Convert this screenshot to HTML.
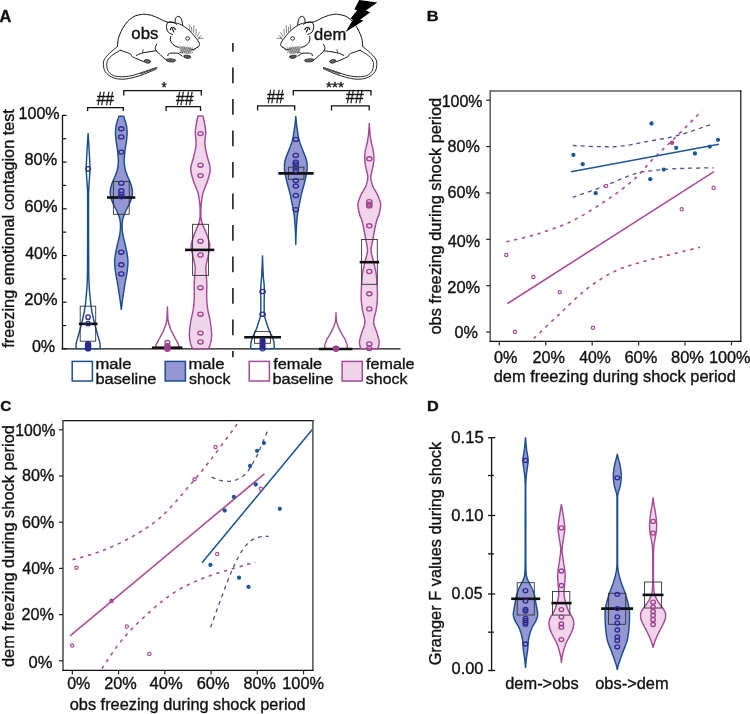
<!DOCTYPE html>
<html><head><meta charset="utf-8"><style>
html,body{margin:0;padding:0;background:#fff;}
svg{display:block;will-change:transform;}
</style></head><body>
<svg width="750" height="714" viewBox="0 0 750 714">
<rect width="750" height="714" fill="#fff"/>
<text x="-0.42" y="21.60" font-size="15.8" font-family="Liberation Sans, sans-serif" font-weight="bold" fill="#111" stroke="#111" stroke-width="0.35" textLength="11.86" lengthAdjust="spacingAndGlyphs">A</text>
<line x1="62.5" y1="115.0" x2="62.5" y2="349.2" stroke="#111" stroke-width="1.3" />
<line x1="61.6" y1="348.9" x2="400.5" y2="348.9" stroke="#111" stroke-width="1.4" />
<line x1="62.5" y1="348.9" x2="66.6" y2="348.9" stroke="#111" stroke-width="1.2" />
<line x1="62.5" y1="302.2" x2="66.6" y2="302.2" stroke="#111" stroke-width="1.2" />
<line x1="62.5" y1="255.49999999999997" x2="66.6" y2="255.49999999999997" stroke="#111" stroke-width="1.2" />
<line x1="62.5" y1="208.79999999999998" x2="66.6" y2="208.79999999999998" stroke="#111" stroke-width="1.2" />
<line x1="62.5" y1="162.09999999999997" x2="66.6" y2="162.09999999999997" stroke="#111" stroke-width="1.2" />
<line x1="62.5" y1="115.39999999999998" x2="66.6" y2="115.39999999999998" stroke="#111" stroke-width="1.2" />
<line x1="62.5" y1="325.54999999999995" x2="66.2" y2="325.54999999999995" stroke="#111" stroke-width="1.2" />
<line x1="62.5" y1="278.84999999999997" x2="66.2" y2="278.84999999999997" stroke="#111" stroke-width="1.2" />
<line x1="62.5" y1="232.14999999999998" x2="66.2" y2="232.14999999999998" stroke="#111" stroke-width="1.2" />
<line x1="62.5" y1="185.45" x2="66.2" y2="185.45" stroke="#111" stroke-width="1.2" />
<line x1="62.5" y1="138.74999999999997" x2="66.2" y2="138.74999999999997" stroke="#111" stroke-width="1.2" />
<text x="18.55" y="118.60" font-size="16" font-family="Liberation Sans, sans-serif" fill="#111" stroke="#111" stroke-width="0.35" textLength="41.03" lengthAdjust="spacingAndGlyphs">100%</text>
<text x="24.54" y="165.20" font-size="16" font-family="Liberation Sans, sans-serif" fill="#111" stroke="#111" stroke-width="0.35" textLength="32.60" lengthAdjust="spacingAndGlyphs">80%</text>
<text x="24.22" y="211.60" font-size="16" font-family="Liberation Sans, sans-serif" fill="#111" stroke="#111" stroke-width="0.35" textLength="33.33" lengthAdjust="spacingAndGlyphs">60%</text>
<text x="25.25" y="259.40" font-size="16" font-family="Liberation Sans, sans-serif" fill="#111" stroke="#111" stroke-width="0.35" textLength="31.77" lengthAdjust="spacingAndGlyphs">40%</text>
<text x="24.22" y="305.40" font-size="16" font-family="Liberation Sans, sans-serif" fill="#111" stroke="#111" stroke-width="0.35" textLength="33.33" lengthAdjust="spacingAndGlyphs">20%</text>
<text x="31.90" y="352.00" font-size="16" font-family="Liberation Sans, sans-serif" fill="#111" stroke="#111" stroke-width="0.35" textLength="23.23" lengthAdjust="spacingAndGlyphs">0%</text>
<text x="13.60" y="347.65" font-size="16.3" font-family="Liberation Sans, sans-serif" fill="#111" stroke="#111" stroke-width="0.35" textLength="238.55" lengthAdjust="spacingAndGlyphs" transform="rotate(-90 13.60 347.65)">freezing emotional contagion test</text>
<g><path d="M117.40,46.60 C117.57,45.27 117.77,41.15 118.40,38.60 C119.03,36.05 120.08,33.63 121.20,31.30 C122.32,28.97 123.70,26.55 125.10,24.60 C126.50,22.65 127.92,21.05 129.60,19.60 C131.28,18.15 133.23,16.75 135.20,15.90 C137.17,15.05 139.77,14.77 141.40,14.50 C143.03,14.23 143.28,14.15 145.00,14.30 C146.72,14.45 149.37,14.72 151.70,15.40 C154.03,16.08 157.03,17.52 159.00,18.40 C160.97,19.28 162.10,20.07 163.50,20.70 C164.90,21.33 166.75,21.95 167.40,22.20" fill="none" stroke="#111" stroke-width="1.0" stroke-linecap="round" stroke-linejoin="round"/><path d="M167.40,22.20 C168.00,22.23 169.68,22.28 171.00,22.40 C172.32,22.52 173.85,22.63 175.30,22.90 C176.75,23.17 178.42,23.52 179.70,24.00 C180.98,24.48 181.45,24.78 183.00,25.80 C184.55,26.82 187.17,28.45 189.00,30.10 C190.83,31.75 192.50,33.92 194.00,35.70 C195.50,37.48 197.07,39.33 198.00,40.80 C198.93,42.27 199.50,43.53 199.60,44.50 C199.70,45.47 199.00,46.13 198.60,46.60 C198.20,47.07 197.43,47.18 197.20,47.30" fill="none" stroke="#111" stroke-width="0.95" stroke-linecap="round" stroke-linejoin="round"/><path d="M176.60,24.40 C176.18,24.10 175.20,23.02 174.10,22.60 C173.00,22.18 171.15,21.77 170.00,21.90 C168.85,22.03 167.78,22.45 167.20,23.40 C166.62,24.35 166.32,26.13 166.50,27.60 C166.68,29.07 167.28,31.05 168.30,32.20 C169.32,33.35 171.88,34.12 172.60,34.50" fill="none" stroke="#111" stroke-width="1.0" stroke-linecap="round" stroke-linejoin="round"/><path d="M170.40,29.80 C170.50,29.50 170.67,28.42 171.00,28.00 C171.33,27.58 171.87,27.32 172.40,27.30 C172.93,27.28 173.70,27.52 174.20,27.90 C174.70,28.28 175.20,29.32 175.40,29.60" fill="none" stroke="#111" stroke-width="1.15" stroke-linecap="round" stroke-linejoin="round"/><path d="M172.30,28.60 C172.55,29.17 173.55,31.43 173.80,32.00" fill="none" stroke="#111" stroke-width="1.1" stroke-linecap="round" stroke-linejoin="round"/><path d="M175.20,22.20 C175.25,21.58 175.10,19.47 175.50,18.50 C175.90,17.53 176.82,16.62 177.60,16.40 C178.38,16.18 179.48,16.50 180.20,17.20 C180.92,17.90 181.50,19.30 181.90,20.60 C182.30,21.90 182.48,24.27 182.60,25.00" fill="none" stroke="#111" stroke-width="1.0" stroke-linecap="round" stroke-linejoin="round"/><path d="M170.80,36.40 C170.72,37.00 169.95,38.67 170.30,40.00 C170.65,41.33 171.73,43.23 172.90,44.40 C174.07,45.57 175.83,46.52 177.30,47.00 C178.77,47.48 180.97,47.25 181.70,47.30" fill="none" stroke="#111" stroke-width="1.0" stroke-linecap="round" stroke-linejoin="round"/><path d="M181.70,47.60 C182.45,47.67 184.80,47.77 186.20,48.00 C187.60,48.23 188.88,48.77 190.10,49.00 C191.32,49.23 192.47,49.58 193.50,49.40 C194.53,49.22 195.62,48.27 196.30,47.90 C196.98,47.53 197.38,47.32 197.60,47.20" fill="none" stroke="#111" stroke-width="1.0" stroke-linecap="round" stroke-linejoin="round"/><ellipse cx="187.6" cy="38.5" rx="2.0" ry="1.7" fill="none" stroke="#111" stroke-width="0.85"/><line x1="189.9" y1="24.3" x2="189.7" y2="30.3" stroke="#222" stroke-width="0.55"/><line x1="191.5" y1="26.8" x2="191.8" y2="31.8" stroke="#222" stroke-width="0.55"/><line x1="194.0" y1="25.0" x2="193.6" y2="33.0" stroke="#222" stroke-width="0.55"/><line x1="196.3" y1="28.9" x2="195.8" y2="35.6" stroke="#222" stroke-width="0.55"/><line x1="199.8" y1="32.3" x2="196.8" y2="36.8" stroke="#222" stroke-width="0.55"/><line x1="203.6" y1="38.2" x2="198.5" y2="38.6" stroke="#222" stroke-width="0.55"/><line x1="199.8" y1="37.3" x2="198.0" y2="39.6" stroke="#222" stroke-width="0.55"/><line x1="201.5" y1="35.5" x2="197.6" y2="38.0" stroke="#222" stroke-width="0.55"/><path d="M179.0,47.2 C181,45.8 185,46.0 188.5,47.8 C190.5,49 191.8,51 191.0,53.2 C189,54.6 185,54.2 182.5,52.6 C180.5,51.2 178.6,49.2 179.0,47.2 Z" fill="#c4c4c4" stroke="none"/><line x1="179.8" y1="46.6" x2="183.0" y2="53.6" stroke="#444" stroke-width="0.5"/><line x1="183.0" y1="46.8" x2="179.8" y2="53.4" stroke="#555" stroke-width="0.4"/><line x1="181.8" y1="46.6" x2="185.0" y2="53.6" stroke="#444" stroke-width="0.5"/><line x1="185.0" y1="46.8" x2="181.8" y2="53.4" stroke="#555" stroke-width="0.4"/><line x1="183.8" y1="46.6" x2="187.0" y2="53.6" stroke="#444" stroke-width="0.5"/><line x1="187.0" y1="46.8" x2="183.8" y2="53.4" stroke="#555" stroke-width="0.4"/><line x1="185.8" y1="46.6" x2="189.0" y2="53.6" stroke="#444" stroke-width="0.5"/><line x1="189.0" y1="46.8" x2="185.8" y2="53.4" stroke="#555" stroke-width="0.4"/><line x1="187.8" y1="46.6" x2="191.0" y2="53.6" stroke="#444" stroke-width="0.5"/><line x1="191.0" y1="46.8" x2="187.8" y2="53.4" stroke="#555" stroke-width="0.4"/><line x1="189.8" y1="46.6" x2="193.0" y2="53.6" stroke="#444" stroke-width="0.5"/><line x1="193.0" y1="46.8" x2="189.8" y2="53.4" stroke="#555" stroke-width="0.4"/><line x1="193.5" y1="49.5" x2="193.0" y2="51.2" stroke="#111" stroke-width="0.6"/><line x1="195.2" y1="48.8" x2="194.8" y2="50.4" stroke="#111" stroke-width="0.6"/><path d="M156.70,44.20 C156.47,44.72 155.38,46.20 155.30,47.30 C155.22,48.40 155.35,49.57 156.20,50.80 C157.05,52.03 159.08,53.45 160.40,54.70 C161.72,55.95 162.95,57.37 164.10,58.30 C165.25,59.23 166.77,59.97 167.30,60.30" fill="none" stroke="#111" stroke-width="1.0" stroke-linecap="round" stroke-linejoin="round"/><path d="M136.40,55.40 C137.33,55.02 139.73,53.73 142.00,53.10 C144.27,52.47 147.63,51.98 150.00,51.60 C152.37,51.22 155.17,50.93 156.20,50.80" fill="none" stroke="#111" stroke-width="1.0" stroke-linecap="round" stroke-linejoin="round"/><path d="M143.30,49.60 C143.18,50.07 142.72,51.93 142.60,52.40" fill="none" stroke="#111" stroke-width="0.7" stroke-linecap="round" stroke-linejoin="round"/><path d="M120.20,50.30 C121.17,50.62 124.23,51.53 126.00,52.20 C127.77,52.87 129.77,53.57 130.80,54.30 C131.83,55.03 131.17,55.85 132.20,56.60 C133.23,57.35 135.37,58.07 137.00,58.80 C138.63,59.53 140.67,60.50 142.00,61.00 C143.33,61.50 144.50,61.67 145.00,61.80" fill="none" stroke="#111" stroke-width="1.0" stroke-linecap="round" stroke-linejoin="round"/><path d="M167.90,55.60 C168.00,55.30 168.03,54.20 168.50,53.80 C168.97,53.40 169.23,53.30 170.70,53.20 C172.17,53.10 175.72,52.95 177.30,53.20 C178.88,53.45 179.42,54.23 180.20,54.70 C180.98,55.17 181.70,55.78 182.00,56.00" fill="none" stroke="#111" stroke-width="1.0" stroke-linecap="round" stroke-linejoin="round"/><path d="M178.60,53.40 C178.93,53.20 179.97,52.30 180.60,52.20 C181.23,52.10 182.10,52.70 182.40,52.80" fill="none" stroke="#111" stroke-width="0.7" stroke-linecap="round" stroke-linejoin="round"/><path d="M166.6,59.4 C168.5,58.4 172.5,58.6 175.4,59.8 C176.2,60.6 175.2,61.9 173.0,62.0 C170.5,62.2 167.8,61.6 166.6,60.8 Z" fill="#666" stroke="#111" stroke-width="0.7"/><path d="M183.8,55.6 C185.6,54.9 188.8,55.0 190.6,56.2 C191.2,57.2 190.0,58.4 187.8,58.4 C185.8,58.4 184.2,57.6 183.8,56.8 Z" fill="#555" stroke="#111" stroke-width="0.7"/><path d="M144.6,60.0 C146.2,59.2 149.0,59.6 150.6,61.0 C151.0,62.2 149.6,63.4 147.6,63.2 C146.0,63.0 144.6,62.2 144.4,61.2 Z" fill="#666" stroke="#111" stroke-width="0.7"/><path d="M117.40,46.60 C116.50,47.33 113.68,49.53 112.00,51.00 C110.32,52.47 108.63,53.90 107.30,55.40 C105.97,56.90 104.65,58.52 104.00,60.00 C103.35,61.48 103.37,62.72 103.40,64.30 C103.43,65.88 103.63,67.95 104.20,69.50 C104.77,71.05 105.58,72.35 106.80,73.60 C108.02,74.85 109.73,76.12 111.50,77.00 C113.27,77.88 115.15,78.55 117.40,78.90 C119.65,79.25 122.57,79.28 125.00,79.10 C127.43,78.92 129.50,78.38 132.00,77.80 C134.50,77.22 137.33,76.47 140.00,75.60 C142.67,74.73 145.67,73.53 148.00,72.60 C150.33,71.67 152.53,70.67 154.00,70.00 C155.47,69.33 156.33,68.83 156.80,68.60" fill="none" stroke="#111" stroke-width="0.9" stroke-linecap="round" stroke-linejoin="round"/><path d="M120.20,50.30 C119.17,50.92 115.77,52.78 114.00,54.00 C112.23,55.22 110.73,56.35 109.60,57.60 C108.47,58.85 107.67,60.20 107.20,61.50 C106.73,62.80 106.73,64.02 106.80,65.40 C106.87,66.78 107.10,68.50 107.60,69.80 C108.10,71.10 108.82,72.23 109.80,73.20 C110.78,74.17 112.05,75.03 113.50,75.60 C114.95,76.17 116.42,76.43 118.50,76.60 C120.58,76.77 123.38,76.87 126.00,76.60 C128.62,76.33 131.70,75.63 134.20,75.00 C136.70,74.37 138.70,73.57 141.00,72.80 C143.30,72.03 145.83,71.13 148.00,70.40 C150.17,69.67 152.53,68.87 154.00,68.40 C155.47,67.93 156.33,67.73 156.80,67.60" fill="none" stroke="#111" stroke-width="0.9" stroke-linecap="round" stroke-linejoin="round"/><path d="M140,73.8 L156.8,68.0" stroke="#555" stroke-width="1.6" fill="none"/></g>
<g transform="translate(480.2,0) scale(-1,1)"><path d="M117.40,46.60 C117.57,45.27 117.77,41.15 118.40,38.60 C119.03,36.05 120.08,33.63 121.20,31.30 C122.32,28.97 123.70,26.55 125.10,24.60 C126.50,22.65 127.92,21.05 129.60,19.60 C131.28,18.15 133.23,16.75 135.20,15.90 C137.17,15.05 139.77,14.77 141.40,14.50 C143.03,14.23 143.28,14.15 145.00,14.30 C146.72,14.45 149.37,14.72 151.70,15.40 C154.03,16.08 157.03,17.52 159.00,18.40 C160.97,19.28 162.10,20.07 163.50,20.70 C164.90,21.33 166.75,21.95 167.40,22.20" fill="none" stroke="#111" stroke-width="1.0" stroke-linecap="round" stroke-linejoin="round"/><path d="M167.40,22.20 C168.00,22.23 169.68,22.28 171.00,22.40 C172.32,22.52 173.85,22.63 175.30,22.90 C176.75,23.17 178.42,23.52 179.70,24.00 C180.98,24.48 181.45,24.78 183.00,25.80 C184.55,26.82 187.17,28.45 189.00,30.10 C190.83,31.75 192.50,33.92 194.00,35.70 C195.50,37.48 197.07,39.33 198.00,40.80 C198.93,42.27 199.50,43.53 199.60,44.50 C199.70,45.47 199.00,46.13 198.60,46.60 C198.20,47.07 197.43,47.18 197.20,47.30" fill="none" stroke="#111" stroke-width="0.95" stroke-linecap="round" stroke-linejoin="round"/><path d="M176.60,24.40 C176.18,24.10 175.20,23.02 174.10,22.60 C173.00,22.18 171.15,21.77 170.00,21.90 C168.85,22.03 167.78,22.45 167.20,23.40 C166.62,24.35 166.32,26.13 166.50,27.60 C166.68,29.07 167.28,31.05 168.30,32.20 C169.32,33.35 171.88,34.12 172.60,34.50" fill="none" stroke="#111" stroke-width="1.0" stroke-linecap="round" stroke-linejoin="round"/><path d="M170.40,29.80 C170.50,29.50 170.67,28.42 171.00,28.00 C171.33,27.58 171.87,27.32 172.40,27.30 C172.93,27.28 173.70,27.52 174.20,27.90 C174.70,28.28 175.20,29.32 175.40,29.60" fill="none" stroke="#111" stroke-width="1.15" stroke-linecap="round" stroke-linejoin="round"/><path d="M172.30,28.60 C172.55,29.17 173.55,31.43 173.80,32.00" fill="none" stroke="#111" stroke-width="1.1" stroke-linecap="round" stroke-linejoin="round"/><path d="M175.20,22.20 C175.25,21.58 175.10,19.47 175.50,18.50 C175.90,17.53 176.82,16.62 177.60,16.40 C178.38,16.18 179.48,16.50 180.20,17.20 C180.92,17.90 181.50,19.30 181.90,20.60 C182.30,21.90 182.48,24.27 182.60,25.00" fill="none" stroke="#111" stroke-width="1.0" stroke-linecap="round" stroke-linejoin="round"/><path d="M170.80,36.40 C170.72,37.00 169.95,38.67 170.30,40.00 C170.65,41.33 171.73,43.23 172.90,44.40 C174.07,45.57 175.83,46.52 177.30,47.00 C178.77,47.48 180.97,47.25 181.70,47.30" fill="none" stroke="#111" stroke-width="1.0" stroke-linecap="round" stroke-linejoin="round"/><path d="M181.70,47.60 C182.45,47.67 184.80,47.77 186.20,48.00 C187.60,48.23 188.88,48.77 190.10,49.00 C191.32,49.23 192.47,49.58 193.50,49.40 C194.53,49.22 195.62,48.27 196.30,47.90 C196.98,47.53 197.38,47.32 197.60,47.20" fill="none" stroke="#111" stroke-width="1.0" stroke-linecap="round" stroke-linejoin="round"/><ellipse cx="187.6" cy="38.5" rx="2.0" ry="1.7" fill="none" stroke="#111" stroke-width="0.85"/><line x1="189.9" y1="24.3" x2="189.7" y2="30.3" stroke="#222" stroke-width="0.55"/><line x1="191.5" y1="26.8" x2="191.8" y2="31.8" stroke="#222" stroke-width="0.55"/><line x1="194.0" y1="25.0" x2="193.6" y2="33.0" stroke="#222" stroke-width="0.55"/><line x1="196.3" y1="28.9" x2="195.8" y2="35.6" stroke="#222" stroke-width="0.55"/><line x1="199.8" y1="32.3" x2="196.8" y2="36.8" stroke="#222" stroke-width="0.55"/><line x1="203.6" y1="38.2" x2="198.5" y2="38.6" stroke="#222" stroke-width="0.55"/><line x1="199.8" y1="37.3" x2="198.0" y2="39.6" stroke="#222" stroke-width="0.55"/><line x1="201.5" y1="35.5" x2="197.6" y2="38.0" stroke="#222" stroke-width="0.55"/><path d="M179.0,47.2 C181,45.8 185,46.0 188.5,47.8 C190.5,49 191.8,51 191.0,53.2 C189,54.6 185,54.2 182.5,52.6 C180.5,51.2 178.6,49.2 179.0,47.2 Z" fill="#c4c4c4" stroke="none"/><line x1="179.8" y1="46.6" x2="183.0" y2="53.6" stroke="#444" stroke-width="0.5"/><line x1="183.0" y1="46.8" x2="179.8" y2="53.4" stroke="#555" stroke-width="0.4"/><line x1="181.8" y1="46.6" x2="185.0" y2="53.6" stroke="#444" stroke-width="0.5"/><line x1="185.0" y1="46.8" x2="181.8" y2="53.4" stroke="#555" stroke-width="0.4"/><line x1="183.8" y1="46.6" x2="187.0" y2="53.6" stroke="#444" stroke-width="0.5"/><line x1="187.0" y1="46.8" x2="183.8" y2="53.4" stroke="#555" stroke-width="0.4"/><line x1="185.8" y1="46.6" x2="189.0" y2="53.6" stroke="#444" stroke-width="0.5"/><line x1="189.0" y1="46.8" x2="185.8" y2="53.4" stroke="#555" stroke-width="0.4"/><line x1="187.8" y1="46.6" x2="191.0" y2="53.6" stroke="#444" stroke-width="0.5"/><line x1="191.0" y1="46.8" x2="187.8" y2="53.4" stroke="#555" stroke-width="0.4"/><line x1="189.8" y1="46.6" x2="193.0" y2="53.6" stroke="#444" stroke-width="0.5"/><line x1="193.0" y1="46.8" x2="189.8" y2="53.4" stroke="#555" stroke-width="0.4"/><line x1="193.5" y1="49.5" x2="193.0" y2="51.2" stroke="#111" stroke-width="0.6"/><line x1="195.2" y1="48.8" x2="194.8" y2="50.4" stroke="#111" stroke-width="0.6"/><path d="M156.70,44.20 C156.47,44.72 155.38,46.20 155.30,47.30 C155.22,48.40 155.35,49.57 156.20,50.80 C157.05,52.03 159.08,53.45 160.40,54.70 C161.72,55.95 162.95,57.37 164.10,58.30 C165.25,59.23 166.77,59.97 167.30,60.30" fill="none" stroke="#111" stroke-width="1.0" stroke-linecap="round" stroke-linejoin="round"/><path d="M136.40,55.40 C137.33,55.02 139.73,53.73 142.00,53.10 C144.27,52.47 147.63,51.98 150.00,51.60 C152.37,51.22 155.17,50.93 156.20,50.80" fill="none" stroke="#111" stroke-width="1.0" stroke-linecap="round" stroke-linejoin="round"/><path d="M143.30,49.60 C143.18,50.07 142.72,51.93 142.60,52.40" fill="none" stroke="#111" stroke-width="0.7" stroke-linecap="round" stroke-linejoin="round"/><path d="M120.20,50.30 C121.17,50.62 124.23,51.53 126.00,52.20 C127.77,52.87 129.77,53.57 130.80,54.30 C131.83,55.03 131.17,55.85 132.20,56.60 C133.23,57.35 135.37,58.07 137.00,58.80 C138.63,59.53 140.67,60.50 142.00,61.00 C143.33,61.50 144.50,61.67 145.00,61.80" fill="none" stroke="#111" stroke-width="1.0" stroke-linecap="round" stroke-linejoin="round"/><path d="M167.90,55.60 C168.00,55.30 168.03,54.20 168.50,53.80 C168.97,53.40 169.23,53.30 170.70,53.20 C172.17,53.10 175.72,52.95 177.30,53.20 C178.88,53.45 179.42,54.23 180.20,54.70 C180.98,55.17 181.70,55.78 182.00,56.00" fill="none" stroke="#111" stroke-width="1.0" stroke-linecap="round" stroke-linejoin="round"/><path d="M178.60,53.40 C178.93,53.20 179.97,52.30 180.60,52.20 C181.23,52.10 182.10,52.70 182.40,52.80" fill="none" stroke="#111" stroke-width="0.7" stroke-linecap="round" stroke-linejoin="round"/><path d="M166.6,59.4 C168.5,58.4 172.5,58.6 175.4,59.8 C176.2,60.6 175.2,61.9 173.0,62.0 C170.5,62.2 167.8,61.6 166.6,60.8 Z" fill="#666" stroke="#111" stroke-width="0.7"/><path d="M183.8,55.6 C185.6,54.9 188.8,55.0 190.6,56.2 C191.2,57.2 190.0,58.4 187.8,58.4 C185.8,58.4 184.2,57.6 183.8,56.8 Z" fill="#555" stroke="#111" stroke-width="0.7"/><path d="M144.6,60.0 C146.2,59.2 149.0,59.6 150.6,61.0 C151.0,62.2 149.6,63.4 147.6,63.2 C146.0,63.0 144.6,62.2 144.4,61.2 Z" fill="#666" stroke="#111" stroke-width="0.7"/><path d="M117.40,46.60 C116.50,47.33 113.68,49.53 112.00,51.00 C110.32,52.47 108.63,53.90 107.30,55.40 C105.97,56.90 104.65,58.52 104.00,60.00 C103.35,61.48 103.37,62.72 103.40,64.30 C103.43,65.88 103.63,67.95 104.20,69.50 C104.77,71.05 105.58,72.35 106.80,73.60 C108.02,74.85 109.73,76.12 111.50,77.00 C113.27,77.88 115.15,78.55 117.40,78.90 C119.65,79.25 122.57,79.28 125.00,79.10 C127.43,78.92 129.50,78.38 132.00,77.80 C134.50,77.22 137.33,76.47 140.00,75.60 C142.67,74.73 145.67,73.53 148.00,72.60 C150.33,71.67 152.53,70.67 154.00,70.00 C155.47,69.33 156.33,68.83 156.80,68.60" fill="none" stroke="#111" stroke-width="0.9" stroke-linecap="round" stroke-linejoin="round"/><path d="M120.20,50.30 C119.17,50.92 115.77,52.78 114.00,54.00 C112.23,55.22 110.73,56.35 109.60,57.60 C108.47,58.85 107.67,60.20 107.20,61.50 C106.73,62.80 106.73,64.02 106.80,65.40 C106.87,66.78 107.10,68.50 107.60,69.80 C108.10,71.10 108.82,72.23 109.80,73.20 C110.78,74.17 112.05,75.03 113.50,75.60 C114.95,76.17 116.42,76.43 118.50,76.60 C120.58,76.77 123.38,76.87 126.00,76.60 C128.62,76.33 131.70,75.63 134.20,75.00 C136.70,74.37 138.70,73.57 141.00,72.80 C143.30,72.03 145.83,71.13 148.00,70.40 C150.17,69.67 152.53,68.87 154.00,68.40 C155.47,67.93 156.33,67.73 156.80,67.60" fill="none" stroke="#111" stroke-width="0.9" stroke-linecap="round" stroke-linejoin="round"/><path d="M140,73.8 L156.8,68.0" stroke="#555" stroke-width="1.6" fill="none"/></g>
<path d="M359.2,0 L377.4,2.4 L365.8,10.5 L370.3,12.3 L360.1,19.8 L363.7,20.4 L345.6,31.9 L352.9,19.8 L350.5,18.6 L357.1,10.5 L354.4,9.3 Z" fill="#000"/>
<text x="131.31" y="38.50" font-size="16" font-family="Liberation Sans, sans-serif" fill="#111" stroke="#111" stroke-width="0.35" textLength="27.06" lengthAdjust="spacingAndGlyphs">obs</text>
<text x="314.13" y="39.90" font-size="16" font-family="Liberation Sans, sans-serif" fill="#111" stroke="#111" stroke-width="0.35" textLength="32.14" lengthAdjust="spacingAndGlyphs">dem</text>
<line x1="232.9" y1="43" x2="232.9" y2="357.3" stroke="#111" stroke-width="1.5" stroke-dasharray="15.8 15.7" stroke-dashoffset="7.1"/>
<path d="M87.6,111.0 L87.6,107.7 L123.3,107.7 L123.3,111.0" fill="none" stroke="#111" stroke-width="1.3"/>
<path d="M166.1,111.0 L166.1,106.7 L200.5,106.7 L200.5,111.0" fill="none" stroke="#111" stroke-width="1.3"/>
<path d="M123.8,95.6 L123.8,90.6 L201.3,90.6 L201.3,95.6" fill="none" stroke="#111" stroke-width="1.3"/>
<path d="M257.6,110.6 L257.6,105.9 L294.7,105.9 L294.7,110.6" fill="none" stroke="#111" stroke-width="1.3"/>
<path d="M331.5,110.6 L331.5,105.9 L369.2,105.9 L369.2,110.6" fill="none" stroke="#111" stroke-width="1.3"/>
<path d="M293.3,95.6 L293.3,90.6 L371.0,90.6 L371.0,95.6" fill="none" stroke="#111" stroke-width="1.3"/>
<text x="96.39" y="105.00" font-size="18.5" font-family="Liberation Sans, sans-serif" font-style="italic" fill="#111" stroke="#111" stroke-width="0.35" textLength="17.47" lengthAdjust="spacingAndGlyphs">##</text>
<text x="175.69" y="105.30" font-size="18.5" font-family="Liberation Sans, sans-serif" font-style="italic" fill="#111" stroke="#111" stroke-width="0.35" textLength="17.57" lengthAdjust="spacingAndGlyphs">##</text>
<text x="161.38" y="92.20" font-size="15" font-family="Liberation Sans, sans-serif" fill="#111" stroke="#111" stroke-width="0.35" textLength="5.23" lengthAdjust="spacingAndGlyphs">*</text>
<text x="266.69" y="103.30" font-size="18.5" font-family="Liberation Sans, sans-serif" font-style="italic" fill="#111" stroke="#111" stroke-width="0.35" textLength="17.17" lengthAdjust="spacingAndGlyphs">##</text>
<text x="345.69" y="103.30" font-size="18.5" font-family="Liberation Sans, sans-serif" font-style="italic" fill="#111" stroke="#111" stroke-width="0.35" textLength="17.57" lengthAdjust="spacingAndGlyphs">##</text>
<text x="326.05" y="91.50" font-size="15" font-family="Liberation Sans, sans-serif" fill="#111" stroke="#111" stroke-width="0.35" textLength="17.82" lengthAdjust="spacingAndGlyphs">***</text>
<path d="M88.10,133.40 C88.18,134.67 88.43,138.23 88.60,141.00 C88.77,143.77 88.95,147.33 89.10,150.00 C89.25,152.67 89.38,154.83 89.50,157.00 C89.62,159.17 89.72,161.00 89.80,163.00 C89.88,165.00 89.98,166.83 89.95,169.00 C89.92,171.17 89.74,173.67 89.60,176.00 C89.46,178.33 89.25,180.67 89.10,183.00 C88.95,185.33 88.79,187.67 88.70,190.00 C88.61,192.33 88.57,190.33 88.55,197.00 C88.53,203.67 88.53,217.83 88.55,230.00 C88.57,242.17 88.61,260.83 88.70,270.00 C88.79,279.17 88.90,280.83 89.10,285.00 C89.30,289.17 89.58,291.50 89.90,295.00 C90.22,298.50 90.55,302.67 91.00,306.00 C91.45,309.33 91.98,312.00 92.60,315.00 C93.22,318.00 93.90,320.83 94.70,324.00 C95.50,327.17 96.53,330.83 97.40,334.00 C98.27,337.17 99.45,340.57 99.90,343.00 C100.35,345.43 100.07,347.67 100.10,348.60 L76.10,348.60 C76.13,347.67 75.85,345.43 76.30,343.00 C76.75,340.57 77.93,337.17 78.80,334.00 C79.67,330.83 80.70,327.17 81.50,324.00 C82.30,320.83 82.98,318.00 83.60,315.00 C84.22,312.00 84.75,309.33 85.20,306.00 C85.65,302.67 85.98,298.50 86.30,295.00 C86.62,291.50 86.90,289.17 87.10,285.00 C87.30,280.83 87.41,279.17 87.50,270.00 C87.59,260.83 87.62,242.17 87.65,230.00 C87.67,217.83 87.67,203.67 87.65,197.00 C87.62,190.33 87.59,192.33 87.50,190.00 C87.41,187.67 87.25,185.33 87.10,183.00 C86.95,180.67 86.74,178.33 86.60,176.00 C86.46,173.67 86.28,171.17 86.25,169.00 C86.22,166.83 86.32,165.00 86.40,163.00 C86.47,161.00 86.58,159.17 86.70,157.00 C86.82,154.83 86.95,152.67 87.10,150.00 C87.25,147.33 87.43,143.77 87.60,141.00 C87.77,138.23 88.02,134.67 88.10,133.40 Z" fill="#fff" stroke="#18508e" stroke-width="1.45" stroke-linejoin="round"/>
<path d="M123.70,116.20 C124.00,117.17 125.00,120.20 125.50,122.00 C126.00,123.80 126.43,125.17 126.70,127.00 C126.97,128.83 127.12,130.83 127.10,133.00 C127.08,135.17 126.93,137.17 126.60,140.00 C126.27,142.83 125.50,146.53 125.10,150.00 C124.70,153.47 124.17,157.47 124.20,160.80 C124.23,164.13 124.62,167.13 125.30,170.00 C125.98,172.87 127.38,175.67 128.30,178.00 C129.22,180.33 130.13,181.98 130.80,184.00 C131.47,186.02 132.12,187.93 132.30,190.10 C132.48,192.27 132.40,194.68 131.90,197.00 C131.40,199.32 130.23,201.83 129.30,204.00 C128.37,206.17 127.17,208.17 126.30,210.00 C125.43,211.83 124.72,213.33 124.10,215.00 C123.48,216.67 122.93,218.02 122.60,220.00 C122.27,221.98 122.05,224.40 122.10,226.90 C122.15,229.40 122.37,231.98 122.90,235.00 C123.43,238.02 124.57,241.67 125.30,245.00 C126.03,248.33 126.85,252.12 127.30,255.00 C127.75,257.88 128.03,259.47 128.00,262.30 C127.97,265.13 127.55,268.72 127.10,272.00 C126.65,275.28 125.87,278.67 125.30,282.00 C124.73,285.33 124.17,289.00 123.70,292.00 C123.23,295.00 122.90,297.10 122.50,300.00 C122.10,302.90 121.50,307.83 121.30,309.40 L121.30,309.40 C121.10,307.83 120.50,302.90 120.10,300.00 C119.70,297.10 119.37,295.00 118.90,292.00 C118.43,289.00 117.87,285.33 117.30,282.00 C116.73,278.67 115.95,275.28 115.50,272.00 C115.05,268.72 114.63,265.13 114.60,262.30 C114.57,259.47 114.85,257.88 115.30,255.00 C115.75,252.12 116.57,248.33 117.30,245.00 C118.03,241.67 119.17,238.02 119.70,235.00 C120.23,231.98 120.45,229.40 120.50,226.90 C120.55,224.40 120.33,221.98 120.00,220.00 C119.67,218.02 119.12,216.67 118.50,215.00 C117.88,213.33 117.17,211.83 116.30,210.00 C115.43,208.17 114.23,206.17 113.30,204.00 C112.37,201.83 111.20,199.32 110.70,197.00 C110.20,194.68 110.12,192.27 110.30,190.10 C110.48,187.93 111.13,186.02 111.80,184.00 C112.47,181.98 113.38,180.33 114.30,178.00 C115.22,175.67 116.62,172.87 117.30,170.00 C117.98,167.13 118.37,164.13 118.40,160.80 C118.43,157.47 117.90,153.47 117.50,150.00 C117.10,146.53 116.33,142.83 116.00,140.00 C115.67,137.17 115.52,135.17 115.50,133.00 C115.48,130.83 115.63,128.83 115.90,127.00 C116.17,125.17 116.60,123.80 117.10,122.00 C117.60,120.20 118.60,117.17 118.90,116.20 Z" fill="#9596d2" stroke="#18508e" stroke-width="1.45" stroke-linejoin="round"/>
<path d="M167.40,307.00 C167.45,308.33 167.54,312.50 167.70,315.00 C167.86,317.50 167.81,319.50 168.35,322.00 C168.89,324.50 169.92,327.50 170.95,330.00 C171.98,332.50 173.50,335.00 174.55,337.00 C175.60,339.00 176.48,340.38 177.25,342.00 C178.02,343.62 178.80,345.60 179.15,346.70 C179.50,347.80 179.32,348.28 179.35,348.60 L155.45,348.60 C155.48,348.28 155.30,347.80 155.65,346.70 C156.00,345.60 156.78,343.62 157.55,342.00 C158.32,340.38 159.20,339.00 160.25,337.00 C161.30,335.00 162.82,332.50 163.85,330.00 C164.88,327.50 165.91,324.50 166.45,322.00 C166.99,319.50 166.94,317.50 167.10,315.00 C167.26,312.50 167.35,308.33 167.40,307.00 Z" fill="#fff" stroke="#a64a98" stroke-width="1.45" stroke-linejoin="round"/>
<path d="M202.85,115.90 C203.10,116.92 203.87,119.33 204.35,122.00 C204.83,124.67 205.67,128.28 205.75,131.90 C205.83,135.52 204.67,139.85 204.85,143.70 C205.03,147.55 205.95,150.80 206.85,155.00 C207.75,159.20 210.08,164.73 210.25,168.90 C210.42,173.07 208.75,176.82 207.85,180.00 C206.95,183.18 205.72,185.65 204.85,188.00 C203.98,190.35 203.23,191.60 202.65,194.10 C202.07,196.60 201.65,200.18 201.35,203.00 C201.05,205.82 200.90,208.50 200.85,211.00 C200.80,213.50 200.80,215.83 201.05,218.00 C201.30,220.17 201.55,221.67 202.35,224.00 C203.15,226.33 204.62,228.57 205.85,232.00 C207.08,235.43 209.33,240.77 209.75,244.60 C210.17,248.43 208.98,251.38 208.35,255.00 C207.72,258.62 206.32,263.13 205.95,266.30 C205.58,269.47 206.02,271.32 206.15,274.00 C206.28,276.68 206.65,278.15 206.75,282.40 C206.85,286.65 206.57,294.90 206.75,299.50 C206.93,304.10 207.25,306.25 207.85,310.00 C208.45,313.75 209.72,318.08 210.35,322.00 C210.98,325.92 211.53,330.33 211.65,333.50 C211.77,336.67 211.38,338.92 211.05,341.00 C210.72,343.08 210.10,344.73 209.65,346.00 C209.20,347.27 208.57,348.17 208.35,348.60 L192.65,348.60 C192.43,348.17 191.80,347.27 191.35,346.00 C190.90,344.73 190.28,343.08 189.95,341.00 C189.62,338.92 189.23,336.67 189.35,333.50 C189.47,330.33 190.02,325.92 190.65,322.00 C191.28,318.08 192.55,313.75 193.15,310.00 C193.75,306.25 194.07,304.10 194.25,299.50 C194.43,294.90 194.15,286.65 194.25,282.40 C194.35,278.15 194.72,276.68 194.85,274.00 C194.98,271.32 195.42,269.47 195.05,266.30 C194.68,263.13 193.28,258.62 192.65,255.00 C192.02,251.38 190.83,248.43 191.25,244.60 C191.67,240.77 193.92,235.43 195.15,232.00 C196.38,228.57 197.85,226.33 198.65,224.00 C199.45,221.67 199.70,220.17 199.95,218.00 C200.20,215.83 200.20,213.50 200.15,211.00 C200.10,208.50 199.95,205.82 199.65,203.00 C199.35,200.18 198.93,196.60 198.35,194.10 C197.77,191.60 197.02,190.35 196.15,188.00 C195.28,185.65 194.05,183.18 193.15,180.00 C192.25,176.82 190.58,173.07 190.75,168.90 C190.92,164.73 193.25,159.20 194.15,155.00 C195.05,150.80 195.97,147.55 196.15,143.70 C196.33,139.85 195.17,135.52 195.25,131.90 C195.33,128.28 196.17,124.67 196.65,122.00 C197.13,119.33 197.90,116.92 198.15,115.90 Z" fill="#f0d5ea" stroke="#a64a98" stroke-width="1.45" stroke-linejoin="round"/>
<path d="M262.50,255.90 C262.55,257.42 262.66,261.52 262.80,265.00 C262.94,268.48 263.12,273.47 263.35,276.80 C263.58,280.13 263.98,282.48 264.15,285.00 C264.32,287.52 264.35,288.87 264.35,291.90 C264.35,294.93 264.15,299.42 264.15,303.20 C264.15,306.98 264.10,311.80 264.35,314.60 C264.60,317.40 265.12,318.12 265.65,320.00 C266.18,321.88 266.85,323.90 267.55,325.90 C268.25,327.90 269.03,330.10 269.85,332.00 C270.67,333.90 271.78,335.63 272.45,337.30 C273.12,338.97 273.55,340.43 273.85,342.00 C274.15,343.57 274.18,345.60 274.25,346.70 C274.32,347.80 274.25,348.28 274.25,348.60 L250.75,348.60 C250.75,348.28 250.68,347.80 250.75,346.70 C250.82,345.60 250.85,343.57 251.15,342.00 C251.45,340.43 251.88,338.97 252.55,337.30 C253.22,335.63 254.33,333.90 255.15,332.00 C255.97,330.10 256.75,327.90 257.45,325.90 C258.15,323.90 258.82,321.88 259.35,320.00 C259.88,318.12 260.40,317.40 260.65,314.60 C260.90,311.80 260.85,306.98 260.85,303.20 C260.85,299.42 260.65,294.93 260.65,291.90 C260.65,288.87 260.68,287.52 260.85,285.00 C261.02,282.48 261.42,280.13 261.65,276.80 C261.88,273.47 262.06,268.48 262.20,265.00 C262.34,261.52 262.45,257.42 262.50,255.90 Z" fill="#fff" stroke="#18508e" stroke-width="1.45" stroke-linejoin="round"/>
<path d="M295.80,116.40 C295.94,117.83 296.13,121.17 296.65,125.00 C297.18,128.83 297.95,135.23 298.95,139.40 C299.95,143.57 301.38,146.48 302.65,150.00 C303.92,153.52 305.80,157.35 306.55,160.50 C307.30,163.65 307.38,165.65 307.15,168.90 C306.92,172.15 306.10,175.80 305.15,180.00 C304.20,184.20 302.37,190.27 301.45,194.10 C300.53,197.93 300.22,200.18 299.65,203.00 C299.08,205.82 298.50,208.17 298.05,211.00 C297.60,213.83 297.27,216.50 296.95,220.00 C296.63,223.50 296.34,227.90 296.15,232.00 C295.96,236.10 295.86,242.50 295.80,244.60 L295.80,244.60 C295.74,242.50 295.64,236.10 295.45,232.00 C295.26,227.90 294.97,223.50 294.65,220.00 C294.33,216.50 294.00,213.83 293.55,211.00 C293.10,208.17 292.52,205.82 291.95,203.00 C291.38,200.18 291.07,197.93 290.15,194.10 C289.23,190.27 287.40,184.20 286.45,180.00 C285.50,175.80 284.68,172.15 284.45,168.90 C284.22,165.65 284.30,163.65 285.05,160.50 C285.80,157.35 287.68,153.52 288.95,150.00 C290.22,146.48 291.65,143.57 292.65,139.40 C293.65,135.23 294.43,128.83 294.95,125.00 C295.47,121.17 295.66,117.83 295.80,116.40 Z" fill="#9596d2" stroke="#18508e" stroke-width="1.45" stroke-linejoin="round"/>
<path d="M336.00,312.70 C336.06,313.92 336.03,317.78 336.35,320.00 C336.68,322.22 337.12,323.83 337.95,326.00 C338.78,328.17 340.20,330.83 341.35,333.00 C342.50,335.17 343.93,337.17 344.85,339.00 C345.77,340.83 346.45,342.72 346.85,344.00 C347.25,345.28 347.18,345.93 347.25,346.70 C347.32,347.47 347.25,348.28 347.25,348.60 L324.75,348.60 C324.75,348.28 324.68,347.47 324.75,346.70 C324.82,345.93 324.75,345.28 325.15,344.00 C325.55,342.72 326.23,340.83 327.15,339.00 C328.07,337.17 329.50,335.17 330.65,333.00 C331.80,330.83 333.22,328.17 334.05,326.00 C334.88,323.83 335.32,322.22 335.65,320.00 C335.97,317.78 335.94,313.92 336.00,312.70 Z" fill="#fff" stroke="#a64a98" stroke-width="1.45" stroke-linejoin="round"/>
<path d="M369.30,123.50 C369.44,125.42 369.78,131.63 370.15,135.00 C370.53,138.37 371.05,141.20 371.55,143.70 C372.05,146.20 372.75,147.48 373.15,150.00 C373.55,152.52 374.03,155.80 373.95,158.80 C373.87,161.80 373.18,164.92 372.65,168.00 C372.12,171.08 370.75,174.30 370.75,177.30 C370.75,180.30 371.50,183.05 372.65,186.00 C373.80,188.95 376.32,191.97 377.65,195.00 C378.98,198.03 380.40,201.03 380.65,204.20 C380.90,207.37 379.78,211.37 379.15,214.00 C378.52,216.63 377.55,217.67 376.85,220.00 C376.15,222.33 375.60,224.85 374.95,228.00 C374.30,231.15 373.60,235.18 372.95,238.90 C372.30,242.62 371.02,246.78 371.05,250.30 C371.08,253.82 372.32,256.22 373.15,260.00 C373.98,263.78 375.38,268.67 376.05,273.00 C376.72,277.33 376.93,281.58 377.15,286.00 C377.37,290.42 377.52,295.50 377.35,299.50 C377.18,303.50 376.68,306.92 376.15,310.00 C375.62,313.08 374.53,315.67 374.15,318.00 C373.77,320.33 373.43,321.67 373.85,324.00 C374.27,326.33 375.78,329.17 376.65,332.00 C377.52,334.83 378.72,338.67 379.05,341.00 C379.38,343.33 378.88,344.73 378.65,346.00 C378.42,347.27 377.82,348.17 377.65,348.60 L360.95,348.60 C360.78,348.17 360.18,347.27 359.95,346.00 C359.72,344.73 359.22,343.33 359.55,341.00 C359.88,338.67 361.08,334.83 361.95,332.00 C362.82,329.17 364.33,326.33 364.75,324.00 C365.17,321.67 364.83,320.33 364.45,318.00 C364.07,315.67 362.98,313.08 362.45,310.00 C361.92,306.92 361.42,303.50 361.25,299.50 C361.08,295.50 361.23,290.42 361.45,286.00 C361.67,281.58 361.88,277.33 362.55,273.00 C363.22,268.67 364.62,263.78 365.45,260.00 C366.28,256.22 367.52,253.82 367.55,250.30 C367.58,246.78 366.30,242.62 365.65,238.90 C365.00,235.18 364.30,231.15 363.65,228.00 C363.00,224.85 362.45,222.33 361.75,220.00 C361.05,217.67 360.08,216.63 359.45,214.00 C358.82,211.37 357.70,207.37 357.95,204.20 C358.20,201.03 359.62,198.03 360.95,195.00 C362.28,191.97 364.80,188.95 365.95,186.00 C367.10,183.05 367.85,180.30 367.85,177.30 C367.85,174.30 366.48,171.08 365.95,168.00 C365.42,164.92 364.73,161.80 364.65,158.80 C364.57,155.80 365.05,152.52 365.45,150.00 C365.85,147.48 366.55,146.20 367.05,143.70 C367.55,141.20 368.07,138.37 368.45,135.00 C368.82,131.63 369.16,125.42 369.30,123.50 Z" fill="#f0d5ea" stroke="#a64a98" stroke-width="1.45" stroke-linejoin="round"/>
<rect x="80.2" y="306.2" width="15.5" height="35.0" fill="none" stroke="#333" stroke-width="0.9"/>
<rect x="113.4" y="181.5" width="15.799999999999983" height="32.80000000000001" fill="none" stroke="#333" stroke-width="0.9"/>
<rect x="192.6" y="224.3" width="16.0" height="51.099999999999966" fill="none" stroke="#333" stroke-width="0.9"/>
<rect x="254.5" y="331.6" width="16.0" height="11.699999999999989" fill="none" stroke="#333" stroke-width="0.9"/>
<rect x="288.4" y="167.2" width="15.5" height="12.100000000000023" fill="none" stroke="#333" stroke-width="0.9"/>
<rect x="361.6" y="239.5" width="15.699999999999989" height="44.80000000000001" fill="none" stroke="#333" stroke-width="0.9"/>
<line x1="78.9" y1="323.9" x2="97.5" y2="323.9" stroke="#111" stroke-width="2.6"/>
<line x1="107.0" y1="197.5" x2="135.3" y2="197.5" stroke="#111" stroke-width="2.6"/>
<line x1="151.9" y1="347.7" x2="182.5" y2="347.7" stroke="#111" stroke-width="2.6"/>
<line x1="185.0" y1="249.9" x2="214.3" y2="249.9" stroke="#111" stroke-width="2.6"/>
<line x1="244.2" y1="337.3" x2="281.0" y2="337.3" stroke="#111" stroke-width="2.6"/>
<line x1="278.3" y1="173.4" x2="313.7" y2="173.4" stroke="#111" stroke-width="2.6"/>
<line x1="318.8" y1="349.0" x2="352.4" y2="349.0" stroke="#111" stroke-width="2.6"/>
<line x1="359.7" y1="262.2" x2="379.2" y2="262.2" stroke="#111" stroke-width="2.6"/>
<ellipse cx="88.1" cy="168.9" rx="2.2" ry="2.3" fill="none" stroke="#2b2a8c" stroke-width="1.3"/>
<ellipse cx="88.1" cy="317.2" rx="2.2" ry="2.3" fill="none" stroke="#2b2a8c" stroke-width="1.3"/>
<ellipse cx="88.1" cy="323.6" rx="2.2" ry="2.3" fill="none" stroke="#2b2a8c" stroke-width="1.3"/>
<rect x="84.9" y="341.0" width="6.4" height="10.6" rx="3.2" fill="#2b2a8c"/>
<ellipse cx="121.3" cy="128.8" rx="2.65" ry="2.05" fill="none" stroke="#2b2a8c" stroke-width="1.3"/>
<ellipse cx="121.3" cy="136.9" rx="2.65" ry="2.05" fill="none" stroke="#2b2a8c" stroke-width="1.3"/>
<ellipse cx="121.3" cy="152.1" rx="2.65" ry="2.05" fill="none" stroke="#2b2a8c" stroke-width="1.3"/>
<ellipse cx="121.3" cy="183.2" rx="2.65" ry="2.05" fill="none" stroke="#2b2a8c" stroke-width="1.3"/>
<ellipse cx="121.3" cy="190.8" rx="2.65" ry="2.05" fill="none" stroke="#2b2a8c" stroke-width="1.3"/>
<ellipse cx="121.3" cy="194.1" rx="2.65" ry="2.05" fill="none" stroke="#2b2a8c" stroke-width="1.3"/>
<ellipse cx="121.3" cy="196.7" rx="2.65" ry="2.05" fill="none" stroke="#2b2a8c" stroke-width="1.3"/>
<ellipse cx="121.3" cy="252.2" rx="2.65" ry="2.05" fill="none" stroke="#2b2a8c" stroke-width="1.3"/>
<ellipse cx="121.3" cy="264.8" rx="2.65" ry="2.05" fill="none" stroke="#2b2a8c" stroke-width="1.3"/>
<ellipse cx="121.3" cy="274.0" rx="2.65" ry="2.05" fill="none" stroke="#2b2a8c" stroke-width="1.3"/>
<ellipse cx="167.4" cy="342.4" rx="2.4" ry="1.9" fill="none" stroke="#9e3f8e" stroke-width="1.3"/>
<rect x="164.0" y="343.0" width="6.8" height="9.0" rx="3.4" fill="#9e3f8e"/>
<ellipse cx="200.5" cy="133.6" rx="2.65" ry="2.05" fill="none" stroke="#9e3f8e" stroke-width="1.3"/>
<ellipse cx="200.5" cy="165.2" rx="2.65" ry="2.05" fill="none" stroke="#9e3f8e" stroke-width="1.3"/>
<ellipse cx="200.5" cy="175.6" rx="2.65" ry="2.05" fill="none" stroke="#9e3f8e" stroke-width="1.3"/>
<ellipse cx="200.5" cy="241.2" rx="2.65" ry="2.05" fill="none" stroke="#9e3f8e" stroke-width="1.3"/>
<ellipse cx="200.5" cy="255" rx="2.65" ry="2.05" fill="none" stroke="#9e3f8e" stroke-width="1.3"/>
<ellipse cx="200.5" cy="287.7" rx="2.65" ry="2.05" fill="none" stroke="#9e3f8e" stroke-width="1.3"/>
<ellipse cx="200.5" cy="314.2" rx="2.65" ry="2.05" fill="none" stroke="#9e3f8e" stroke-width="1.3"/>
<ellipse cx="200.5" cy="333.1" rx="2.65" ry="2.05" fill="none" stroke="#9e3f8e" stroke-width="1.3"/>
<ellipse cx="200.5" cy="342" rx="2.65" ry="2.05" fill="none" stroke="#9e3f8e" stroke-width="1.3"/>
<ellipse cx="262.6" cy="291.5" rx="2.65" ry="2.05" fill="none" stroke="#2b2a8c" stroke-width="1.3"/>
<ellipse cx="262.6" cy="314.2" rx="2.65" ry="2.05" fill="none" stroke="#2b2a8c" stroke-width="1.3"/>
<rect x="259.5" y="337.6" width="6.1" height="13.9" rx="3.0" fill="#2b2a8c"/>
<ellipse cx="262.55" cy="350.0" rx="1.3" ry="0.6" fill="#9a9ad8"/>
<ellipse cx="295.8" cy="139.4" rx="2.65" ry="2.05" fill="none" stroke="#2b2a8c" stroke-width="1.3"/>
<ellipse cx="295.8" cy="155.4" rx="2.65" ry="2.05" fill="none" stroke="#2b2a8c" stroke-width="1.3"/>
<ellipse cx="295.8" cy="162.2" rx="2.65" ry="2.05" fill="none" stroke="#2b2a8c" stroke-width="1.3"/>
<ellipse cx="295.8" cy="164.2" rx="2.65" ry="2.05" fill="none" stroke="#2b2a8c" stroke-width="1.3"/>
<ellipse cx="295.8" cy="168.1" rx="2.65" ry="2.05" fill="none" stroke="#2b2a8c" stroke-width="1.3"/>
<ellipse cx="295.8" cy="170.6" rx="2.65" ry="2.05" fill="none" stroke="#2b2a8c" stroke-width="1.3"/>
<ellipse cx="295.8" cy="180.7" rx="2.65" ry="2.05" fill="none" stroke="#2b2a8c" stroke-width="1.3"/>
<ellipse cx="295.8" cy="186.1" rx="2.65" ry="2.05" fill="none" stroke="#2b2a8c" stroke-width="1.3"/>
<ellipse cx="295.8" cy="195.5" rx="2.65" ry="2.05" fill="none" stroke="#2b2a8c" stroke-width="1.3"/>
<ellipse cx="295.8" cy="209.6" rx="2.65" ry="2.05" fill="none" stroke="#2b2a8c" stroke-width="1.3"/>
<circle cx="336.0" cy="348.8" r="3.3" fill="#9e3f8e"/>
<ellipse cx="369.3" cy="158.8" rx="2.65" ry="2.05" fill="none" stroke="#9e3f8e" stroke-width="1.3"/>
<ellipse cx="369.3" cy="201.7" rx="2.65" ry="2.05" fill="none" stroke="#9e3f8e" stroke-width="1.3"/>
<ellipse cx="369.3" cy="204.2" rx="2.65" ry="2.05" fill="none" stroke="#9e3f8e" stroke-width="1.3"/>
<ellipse cx="369.3" cy="205.9" rx="2.65" ry="2.05" fill="none" stroke="#9e3f8e" stroke-width="1.3"/>
<ellipse cx="369.3" cy="225.8" rx="2.65" ry="2.05" fill="none" stroke="#9e3f8e" stroke-width="1.3"/>
<ellipse cx="369.3" cy="271.5" rx="2.65" ry="2.05" fill="none" stroke="#9e3f8e" stroke-width="1.3"/>
<ellipse cx="369.3" cy="293.8" rx="2.65" ry="2.05" fill="none" stroke="#9e3f8e" stroke-width="1.3"/>
<ellipse cx="369.3" cy="308.9" rx="2.65" ry="2.05" fill="none" stroke="#9e3f8e" stroke-width="1.3"/>
<ellipse cx="369.3" cy="343.9" rx="2.65" ry="2.05" fill="none" stroke="#9e3f8e" stroke-width="1.3"/>
<ellipse cx="369.3" cy="348.6" rx="2.65" ry="2.05" fill="none" stroke="#9e3f8e" stroke-width="1.3"/>
<rect x="72.2" y="361.4" width="20.2" height="19.6" fill="#fff" stroke="#18508e" stroke-width="1.5"/>
<text x="95.41" y="368.60" font-size="15.3" font-family="Liberation Sans, sans-serif" fill="#111" stroke="#111" stroke-width="0.35" textLength="36.00" lengthAdjust="spacingAndGlyphs">male</text>
<text x="95.43" y="384.40" font-size="15.3" font-family="Liberation Sans, sans-serif" fill="#111" stroke="#111" stroke-width="0.35" textLength="61.06" lengthAdjust="spacingAndGlyphs">baseline</text>
<rect x="165.2" y="361.4" width="20.2" height="19.6" fill="#9596d2" stroke="#18508e" stroke-width="1.5"/>
<text x="188.41" y="368.60" font-size="15.3" font-family="Liberation Sans, sans-serif" fill="#111" stroke="#111" stroke-width="0.35" textLength="36.00" lengthAdjust="spacingAndGlyphs">male</text>
<text x="188.98" y="384.40" font-size="15.3" font-family="Liberation Sans, sans-serif" fill="#111" stroke="#111" stroke-width="0.35" textLength="41.49" lengthAdjust="spacingAndGlyphs">shock</text>
<rect x="249.2" y="361.4" width="20.2" height="19.6" fill="#fff" stroke="#a64a98" stroke-width="1.5"/>
<text x="273.23" y="368.60" font-size="15.3" font-family="Liberation Sans, sans-serif" fill="#111" stroke="#111" stroke-width="0.35" textLength="48.98" lengthAdjust="spacingAndGlyphs">female</text>
<text x="272.43" y="384.40" font-size="15.3" font-family="Liberation Sans, sans-serif" fill="#111" stroke="#111" stroke-width="0.35" textLength="61.06" lengthAdjust="spacingAndGlyphs">baseline</text>
<rect x="342.1" y="361.4" width="20.2" height="19.6" fill="#f0d5ea" stroke="#a64a98" stroke-width="1.5"/>
<text x="366.14" y="368.60" font-size="15.3" font-family="Liberation Sans, sans-serif" fill="#111" stroke="#111" stroke-width="0.35" textLength="48.47" lengthAdjust="spacingAndGlyphs">female</text>
<text x="365.88" y="384.40" font-size="15.3" font-family="Liberation Sans, sans-serif" fill="#111" stroke="#111" stroke-width="0.35" textLength="41.49" lengthAdjust="spacingAndGlyphs">shock</text>
<text x="426.75" y="21.40" font-size="15.5" font-family="Liberation Sans, sans-serif" font-weight="bold" fill="#111" stroke="#111" stroke-width="0.35" textLength="11.79" lengthAdjust="spacingAndGlyphs">B</text>
<line x1="490.2" y1="90.9" x2="741.4" y2="90.9" stroke="#5a5a5a" stroke-width="1.5" />
<line x1="490.2" y1="90.2" x2="490.2" y2="342.0" stroke="#5a5a5a" stroke-width="1.5" />
<line x1="740.8" y1="90.2" x2="740.8" y2="342.0" stroke="#111" stroke-width="1.2" />
<line x1="489.5" y1="341.4" x2="741.4" y2="341.4" stroke="#111" stroke-width="1.2" />
<line x1="486.2" y1="332.1" x2="490.2" y2="332.1" stroke="#222" stroke-width="1.2" />
<line x1="499.3" y1="341.4" x2="499.3" y2="345.4" stroke="#222" stroke-width="1.2" />
<line x1="486.2" y1="285.72" x2="490.2" y2="285.72" stroke="#222" stroke-width="1.2" />
<line x1="545.74" y1="341.4" x2="545.74" y2="345.4" stroke="#222" stroke-width="1.2" />
<line x1="486.2" y1="239.34000000000003" x2="490.2" y2="239.34000000000003" stroke="#222" stroke-width="1.2" />
<line x1="592.1800000000001" y1="341.4" x2="592.1800000000001" y2="345.4" stroke="#222" stroke-width="1.2" />
<line x1="486.2" y1="192.96000000000004" x2="490.2" y2="192.96000000000004" stroke="#222" stroke-width="1.2" />
<line x1="638.62" y1="341.4" x2="638.62" y2="345.4" stroke="#222" stroke-width="1.2" />
<line x1="486.2" y1="146.58000000000004" x2="490.2" y2="146.58000000000004" stroke="#222" stroke-width="1.2" />
<line x1="685.06" y1="341.4" x2="685.06" y2="345.4" stroke="#222" stroke-width="1.2" />
<line x1="486.2" y1="100.20000000000002" x2="490.2" y2="100.20000000000002" stroke="#222" stroke-width="1.2" />
<line x1="731.5" y1="341.4" x2="731.5" y2="345.4" stroke="#222" stroke-width="1.2" />
<text x="441.65" y="107.20" font-size="16" font-family="Liberation Sans, sans-serif" fill="#111" stroke="#111" stroke-width="0.35" textLength="40.82" lengthAdjust="spacingAndGlyphs">100%</text>
<text x="447.44" y="152.30" font-size="16" font-family="Liberation Sans, sans-serif" fill="#111" stroke="#111" stroke-width="0.35" textLength="32.29" lengthAdjust="spacingAndGlyphs">80%</text>
<text x="447.44" y="198.40" font-size="16" font-family="Liberation Sans, sans-serif" fill="#111" stroke="#111" stroke-width="0.35" textLength="32.29" lengthAdjust="spacingAndGlyphs">60%</text>
<text x="447.85" y="246.80" font-size="16" font-family="Liberation Sans, sans-serif" fill="#111" stroke="#111" stroke-width="0.35" textLength="32.39" lengthAdjust="spacingAndGlyphs">40%</text>
<text x="447.33" y="292.80" font-size="16" font-family="Liberation Sans, sans-serif" fill="#111" stroke="#111" stroke-width="0.35" textLength="32.92" lengthAdjust="spacingAndGlyphs">20%</text>
<text x="454.59" y="337.80" font-size="16" font-family="Liberation Sans, sans-serif" fill="#111" stroke="#111" stroke-width="0.35" textLength="23.44" lengthAdjust="spacingAndGlyphs">0%</text>
<text x="494.00" y="362.70" font-size="16" font-family="Liberation Sans, sans-serif" fill="#111" stroke="#111" stroke-width="0.35" textLength="23.34" lengthAdjust="spacingAndGlyphs">0%</text>
<text x="532.44" y="362.70" font-size="16" font-family="Liberation Sans, sans-serif" fill="#111" stroke="#111" stroke-width="0.35" textLength="32.40" lengthAdjust="spacingAndGlyphs">20%</text>
<text x="579.25" y="362.70" font-size="16" font-family="Liberation Sans, sans-serif" fill="#111" stroke="#111" stroke-width="0.35" textLength="31.57" lengthAdjust="spacingAndGlyphs">40%</text>
<text x="624.43" y="362.70" font-size="16" font-family="Liberation Sans, sans-serif" fill="#111" stroke="#111" stroke-width="0.35" textLength="32.92" lengthAdjust="spacingAndGlyphs">60%</text>
<text x="671.03" y="362.70" font-size="16" font-family="Liberation Sans, sans-serif" fill="#111" stroke="#111" stroke-width="0.35" textLength="32.92" lengthAdjust="spacingAndGlyphs">80%</text>
<text x="708.93" y="362.70" font-size="16" font-family="Liberation Sans, sans-serif" fill="#111" stroke="#111" stroke-width="0.35" textLength="41.55" lengthAdjust="spacingAndGlyphs">100%</text>
<text x="493.75" y="382.30" font-size="16.3" font-family="Liberation Sans, sans-serif" fill="#111" stroke="#111" stroke-width="0.35" textLength="242.06" lengthAdjust="spacingAndGlyphs">dem freezing during shock period</text>
<text x="441.00" y="334.55" font-size="16.3" font-family="Liberation Sans, sans-serif" fill="#111" stroke="#111" stroke-width="0.35" textLength="236.74" lengthAdjust="spacingAndGlyphs" transform="rotate(-90 441.00 334.55)">obs freezing during shock period</text>
<circle cx="672.0" cy="142.8" r="2.3" fill="#ad4c98"/>
<path d="M572.80,145.50 C576.83,145.68 589.18,146.47 597.00,146.60 C604.82,146.73 611.65,147.08 619.70,146.30 C627.75,145.52 635.70,143.70 645.30,141.90 C654.90,140.10 665.92,138.53 677.30,135.50 C688.68,132.47 707.55,125.67 713.60,123.70" fill="none" stroke="#4d4f98" stroke-width="1.3" stroke-dasharray="4.0 4.0"/>
<path d="M572.80,197.30 C577.78,195.53 592.38,190.60 602.70,186.70 C613.02,182.80 624.75,176.75 634.70,173.90 C644.65,171.05 653.18,170.55 662.40,169.60 C671.62,168.65 681.47,168.48 690.00,168.20 C698.53,167.92 709.67,167.95 713.60,167.90" fill="none" stroke="#4d4f98" stroke-width="1.3" stroke-dasharray="4.0 4.0"/>
<path d="M506.40,241.80 C511.37,240.55 525.45,237.67 536.20,234.30 C546.95,230.93 559.33,227.18 570.90,221.60 C582.47,216.02 595.18,207.73 605.60,200.80 C616.02,193.87 625.67,186.80 633.40,180.00 C641.13,173.20 645.38,166.72 652.00,160.00 C658.62,153.28 664.78,147.88 673.10,139.70 C681.42,131.52 697.10,115.70 701.90,110.90" fill="none" stroke="#ad4c98" stroke-width="1.6" stroke-dasharray="3.4 4.6"/>
<path d="M533.90,338.40 C538.15,334.35 550.53,322.38 559.40,314.10 C568.27,305.82 577.47,296.02 587.10,288.70 C596.73,281.38 606.72,275.02 617.20,270.20 C627.68,265.38 636.20,263.62 650.00,259.80 C663.80,255.98 691.67,249.38 700.00,247.30" fill="none" stroke="#ad4c98" stroke-width="1.6" stroke-dasharray="3.4 4.6"/>
<line x1="571.1" y1="171.7" x2="719.0" y2="144.3" stroke="#1d5796" stroke-width="1.6" />
<line x1="507.3" y1="303.7" x2="714.0" y2="171.7" stroke="#ad4c98" stroke-width="1.6" />
<circle cx="573.4" cy="154.9" r="2.15" fill="#1d5796"/>
<circle cx="582.7" cy="164.2" r="2.15" fill="#1d5796"/>
<circle cx="595.7" cy="193.2" r="2.15" fill="#1d5796"/>
<circle cx="651.5" cy="123.5" r="2.15" fill="#1d5796"/>
<circle cx="650.3" cy="179.2" r="2.15" fill="#1d5796"/>
<circle cx="663.8" cy="169.6" r="2.15" fill="#1d5796"/>
<circle cx="676.2" cy="147.8" r="2.15" fill="#1d5796"/>
<circle cx="694.9" cy="153.5" r="2.15" fill="#1d5796"/>
<circle cx="709.8" cy="146.6" r="2.15" fill="#1d5796"/>
<circle cx="718" cy="139.8" r="2.15" fill="#1d5796"/>
<circle cx="506.3" cy="255.0" r="1.65" fill="#fff" stroke="#ad4c98" stroke-width="1.2"/>
<circle cx="533.4" cy="277.0" r="1.65" fill="#fff" stroke="#ad4c98" stroke-width="1.2"/>
<circle cx="559.7" cy="292.2" r="1.65" fill="#fff" stroke="#ad4c98" stroke-width="1.2"/>
<circle cx="514.9" cy="331.8" r="1.65" fill="#fff" stroke="#ad4c98" stroke-width="1.2"/>
<circle cx="593.0" cy="327.8" r="1.65" fill="#fff" stroke="#ad4c98" stroke-width="1.2"/>
<circle cx="606.2" cy="186.0" r="1.65" fill="#fff" stroke="#ad4c98" stroke-width="1.2"/>
<circle cx="681.7" cy="209.2" r="1.65" fill="#fff" stroke="#ad4c98" stroke-width="1.2"/>
<circle cx="713.6" cy="187.7" r="1.65" fill="#fff" stroke="#ad4c98" stroke-width="1.2"/>
<text x="0.27" y="411.30" font-size="14.6" font-family="Liberation Sans, sans-serif" font-weight="bold" fill="#111" stroke="#111" stroke-width="0.35" textLength="11.10" lengthAdjust="spacingAndGlyphs">C</text>
<line x1="63.0" y1="420.6" x2="313.5" y2="420.6" stroke="#111" stroke-width="1.2" />
<line x1="63.0" y1="420.0" x2="63.0" y2="671.0" stroke="#4a4a4a" stroke-width="1.5" />
<line x1="312.9" y1="420.0" x2="312.9" y2="671.0" stroke="#333" stroke-width="1.3" />
<line x1="62.3" y1="670.4" x2="313.5" y2="670.4" stroke="#111" stroke-width="1.2" />
<line x1="59.0" y1="660.8" x2="63.0" y2="660.8" stroke="#222" stroke-width="1.2" />
<line x1="72.35" y1="670.4" x2="72.35" y2="674.4" stroke="#222" stroke-width="1.2" />
<line x1="59.0" y1="614.5999999999999" x2="63.0" y2="614.5999999999999" stroke="#222" stroke-width="1.2" />
<line x1="118.58999999999999" y1="670.4" x2="118.58999999999999" y2="674.4" stroke="#222" stroke-width="1.2" />
<line x1="59.0" y1="568.4" x2="63.0" y2="568.4" stroke="#222" stroke-width="1.2" />
<line x1="164.82999999999998" y1="670.4" x2="164.82999999999998" y2="674.4" stroke="#222" stroke-width="1.2" />
<line x1="59.0" y1="522.1999999999999" x2="63.0" y2="522.1999999999999" stroke="#222" stroke-width="1.2" />
<line x1="211.07" y1="670.4" x2="211.07" y2="674.4" stroke="#222" stroke-width="1.2" />
<line x1="59.0" y1="475.99999999999994" x2="63.0" y2="475.99999999999994" stroke="#222" stroke-width="1.2" />
<line x1="257.30999999999995" y1="670.4" x2="257.30999999999995" y2="674.4" stroke="#222" stroke-width="1.2" />
<line x1="59.0" y1="429.79999999999995" x2="63.0" y2="429.79999999999995" stroke="#222" stroke-width="1.2" />
<line x1="303.54999999999995" y1="670.4" x2="303.54999999999995" y2="674.4" stroke="#222" stroke-width="1.2" />
<text x="15.27" y="435.70" font-size="16" font-family="Liberation Sans, sans-serif" fill="#111" stroke="#111" stroke-width="0.35" textLength="40.29" lengthAdjust="spacingAndGlyphs">100%</text>
<text x="22.04" y="481.40" font-size="16" font-family="Liberation Sans, sans-serif" fill="#111" stroke="#111" stroke-width="0.35" textLength="32.29" lengthAdjust="spacingAndGlyphs">80%</text>
<text x="22.04" y="527.60" font-size="16" font-family="Liberation Sans, sans-serif" fill="#111" stroke="#111" stroke-width="0.35" textLength="32.29" lengthAdjust="spacingAndGlyphs">60%</text>
<text x="22.35" y="573.60" font-size="16" font-family="Liberation Sans, sans-serif" fill="#111" stroke="#111" stroke-width="0.35" textLength="31.77" lengthAdjust="spacingAndGlyphs">40%</text>
<text x="21.54" y="619.60" font-size="16" font-family="Liberation Sans, sans-serif" fill="#111" stroke="#111" stroke-width="0.35" textLength="32.40" lengthAdjust="spacingAndGlyphs">20%</text>
<text x="28.48" y="667.70" font-size="16" font-family="Liberation Sans, sans-serif" fill="#111" stroke="#111" stroke-width="0.35" textLength="23.97" lengthAdjust="spacingAndGlyphs">0%</text>
<text x="67.20" y="688.60" font-size="16" font-family="Liberation Sans, sans-serif" fill="#111" stroke="#111" stroke-width="0.35" textLength="23.12" lengthAdjust="spacingAndGlyphs">0%</text>
<text x="104.24" y="688.60" font-size="16" font-family="Liberation Sans, sans-serif" fill="#111" stroke="#111" stroke-width="0.35" textLength="32.60" lengthAdjust="spacingAndGlyphs">20%</text>
<text x="149.54" y="688.60" font-size="16" font-family="Liberation Sans, sans-serif" fill="#111" stroke="#111" stroke-width="0.35" textLength="33.11" lengthAdjust="spacingAndGlyphs">40%</text>
<text x="196.73" y="688.60" font-size="16" font-family="Liberation Sans, sans-serif" fill="#111" stroke="#111" stroke-width="0.35" textLength="32.81" lengthAdjust="spacingAndGlyphs">60%</text>
<text x="243.54" y="688.60" font-size="16" font-family="Liberation Sans, sans-serif" fill="#111" stroke="#111" stroke-width="0.35" textLength="32.29" lengthAdjust="spacingAndGlyphs">80%</text>
<text x="282.22" y="688.60" font-size="16" font-family="Liberation Sans, sans-serif" fill="#111" stroke="#111" stroke-width="0.35" textLength="41.76" lengthAdjust="spacingAndGlyphs">100%</text>
<text x="69.75" y="709.50" font-size="16.3" font-family="Liberation Sans, sans-serif" fill="#111" stroke="#111" stroke-width="0.35" textLength="235.93" lengthAdjust="spacingAndGlyphs">obs freezing during shock period</text>
<text x="13.70" y="667.05" font-size="16.3" font-family="Liberation Sans, sans-serif" fill="#111" stroke="#111" stroke-width="0.35" textLength="241.96" lengthAdjust="spacingAndGlyphs" transform="rotate(-90 13.70 667.05)">dem freezing during shock period</text>
<circle cx="111.5" cy="600.9" r="2.3" fill="#ad4c98"/>
<path d="M267.20,431.80 C266.33,433.83 263.68,440.07 262.00,444.00 C260.32,447.93 259.58,450.70 257.10,455.40 C254.62,460.10 250.28,468.27 247.10,472.20 C243.92,476.13 241.08,477.47 238.00,479.00 C234.92,480.53 231.77,481.23 228.60,481.40 C225.43,481.57 222.08,480.83 219.00,480.00 C215.92,479.17 211.58,477.00 210.10,476.40" fill="none" stroke="#4d4f98" stroke-width="1.3" stroke-dasharray="4.0 4.0"/>
<path d="M210.60,627.30 C212.00,623.45 216.20,611.78 219.00,604.20 C221.80,596.62 224.83,588.33 227.40,581.80 C229.97,575.27 231.83,570.37 234.40,565.00 C236.97,559.63 240.00,553.68 242.80,549.60 C245.60,545.52 248.17,542.65 251.20,540.50 C254.23,538.35 258.08,537.40 261.00,536.70 C263.92,536.00 267.42,536.37 268.70,536.30" fill="none" stroke="#4d4f98" stroke-width="1.3" stroke-dasharray="4.0 4.0"/>
<path d="M72.40,559.80 C77.33,558.30 91.82,554.77 102.00,550.80 C112.18,546.83 123.70,541.62 133.50,536.00 C143.30,530.38 152.05,524.80 160.80,517.10 C169.55,509.40 177.77,499.25 186.00,489.80 C194.23,480.35 201.28,471.88 210.20,460.40 C219.12,448.92 234.62,427.48 239.50,420.90" fill="none" stroke="#ad4c98" stroke-width="1.6" stroke-dasharray="3.4 4.6"/>
<path d="M102.00,668.60 C105.50,663.62 114.95,648.23 123.00,638.70 C131.05,629.17 141.20,619.45 150.30,611.40 C159.40,603.35 167.65,596.35 177.60,590.40 C187.55,584.45 197.05,580.40 210.00,575.70 C222.95,571.00 247.75,564.45 255.30,562.20" fill="none" stroke="#ad4c98" stroke-width="1.6" stroke-dasharray="3.4 4.6"/>
<line x1="202.0" y1="562.7" x2="312.3" y2="429.5" stroke="#1d5796" stroke-width="1.6" />
<line x1="70.1" y1="635.8" x2="264.4" y2="473.9" stroke="#ad4c98" stroke-width="1.6" />
<circle cx="263.9" cy="443.1" r="2.15" fill="#1d5796"/>
<circle cx="257.1" cy="450.8" r="2.15" fill="#1d5796"/>
<circle cx="250.1" cy="466" r="2.15" fill="#1d5796"/>
<circle cx="255.8" cy="484.5" r="2.15" fill="#1d5796"/>
<circle cx="233.9" cy="496.9" r="2.15" fill="#1d5796"/>
<circle cx="224.7" cy="510.5" r="2.15" fill="#1d5796"/>
<circle cx="279.8" cy="508.8" r="2.15" fill="#1d5796"/>
<circle cx="210.4" cy="564.9" r="2.15" fill="#1d5796"/>
<circle cx="239" cy="577.7" r="2.15" fill="#1d5796"/>
<circle cx="248.5" cy="586.9" r="2.15" fill="#1d5796"/>
<circle cx="215.5" cy="447" r="1.65" fill="#fff" stroke="#ad4c98" stroke-width="1.2"/>
<circle cx="194.5" cy="479.3" r="1.65" fill="#fff" stroke="#ad4c98" stroke-width="1.2"/>
<circle cx="260.8" cy="488.7" r="1.65" fill="#fff" stroke="#ad4c98" stroke-width="1.2"/>
<circle cx="217.2" cy="554" r="1.65" fill="#fff" stroke="#ad4c98" stroke-width="1.2"/>
<circle cx="76.4" cy="567.7" r="1.65" fill="#fff" stroke="#ad4c98" stroke-width="1.2"/>
<circle cx="126.8" cy="626.6" r="1.65" fill="#fff" stroke="#ad4c98" stroke-width="1.2"/>
<circle cx="72.2" cy="645.5" r="1.65" fill="#fff" stroke="#ad4c98" stroke-width="1.2"/>
<circle cx="149.3" cy="654.1" r="1.65" fill="#fff" stroke="#ad4c98" stroke-width="1.2"/>
<text x="427.10" y="411.20" font-size="14.8" font-family="Liberation Sans, sans-serif" font-weight="bold" fill="#111" stroke="#111" stroke-width="0.35" textLength="11.76" lengthAdjust="spacingAndGlyphs">D</text>
<line x1="491.6" y1="437.1" x2="491.6" y2="671.2" stroke="#111" stroke-width="1.3" />
<line x1="488.1" y1="670.5" x2="495.2" y2="670.5" stroke="#111" stroke-width="1.3" />
<line x1="488.1" y1="594.0" x2="495.2" y2="594.0" stroke="#111" stroke-width="1.3" />
<line x1="488.1" y1="515.5" x2="495.2" y2="515.5" stroke="#111" stroke-width="1.3" />
<line x1="488.1" y1="437.7" x2="495.2" y2="437.7" stroke="#111" stroke-width="1.3" />
<text x="451.18" y="442.90" font-size="16" font-family="Liberation Sans, sans-serif" fill="#111" stroke="#111" stroke-width="0.35" textLength="32.59" lengthAdjust="spacingAndGlyphs">0.15</text>
<text x="451.18" y="520.70" font-size="16" font-family="Liberation Sans, sans-serif" fill="#111" stroke="#111" stroke-width="0.35" textLength="32.28" lengthAdjust="spacingAndGlyphs">0.10</text>
<text x="451.61" y="598.50" font-size="16" font-family="Liberation Sans, sans-serif" fill="#111" stroke="#111" stroke-width="0.35" textLength="30.83" lengthAdjust="spacingAndGlyphs">0.05</text>
<text x="451.59" y="673.60" font-size="16" font-family="Liberation Sans, sans-serif" fill="#111" stroke="#111" stroke-width="0.35" textLength="31.76" lengthAdjust="spacingAndGlyphs">0.00</text>
<line x1="488.1" y1="632.2" x2="493.8" y2="632.2" stroke="#111" stroke-width="1.3" />
<line x1="488.1" y1="553.9" x2="493.8" y2="553.9" stroke="#111" stroke-width="1.3" />
<line x1="488.1" y1="475.5" x2="493.8" y2="475.5" stroke="#111" stroke-width="1.3" />
<text x="440.80" y="665.35" font-size="16.3" font-family="Liberation Sans, sans-serif" fill="#111" stroke="#111" stroke-width="0.35" textLength="223.58" lengthAdjust="spacingAndGlyphs" transform="rotate(-90 440.80 665.35)">Granger F values during shock</text>
<text x="505.24" y="689.30" font-size="16.3" font-family="Liberation Sans, sans-serif" fill="#111" stroke="#111" stroke-width="0.35" textLength="73.37" lengthAdjust="spacingAndGlyphs">dem-&gt;obs</text>
<text x="595.24" y="689.30" font-size="16.3" font-family="Liberation Sans, sans-serif" fill="#111" stroke="#111" stroke-width="0.35" textLength="73.37" lengthAdjust="spacingAndGlyphs">obs-&gt;dem</text>
<path d="M525.50,437.70 C525.69,439.75 526.21,446.27 526.65,450.00 C527.09,453.73 528.08,456.77 528.15,460.10 C528.22,463.43 527.44,466.22 527.05,470.00 C526.66,473.78 526.01,474.47 525.80,482.80 C525.59,491.13 525.80,507.13 525.80,520.00 C525.80,532.87 525.71,550.78 525.80,560.00 C525.89,569.22 525.84,571.63 526.35,575.30 C526.86,578.97 527.85,579.72 528.85,582.00 C529.85,584.28 531.38,586.67 532.35,589.00 C533.32,591.33 534.02,593.38 534.65,596.00 C535.28,598.62 535.63,601.62 536.15,604.70 C536.67,607.78 537.80,611.78 537.75,614.50 C537.70,617.22 536.85,618.72 535.85,621.00 C534.85,623.28 532.93,625.37 531.75,628.20 C530.57,631.03 529.43,634.40 528.75,638.00 C528.07,641.60 528.03,646.47 527.65,649.80 C527.27,653.13 526.81,655.05 526.45,658.00 C526.09,660.95 525.66,665.92 525.50,667.50 L525.50,667.50 C525.34,665.92 524.91,660.95 524.55,658.00 C524.19,655.05 523.73,653.13 523.35,649.80 C522.97,646.47 522.93,641.60 522.25,638.00 C521.57,634.40 520.43,631.03 519.25,628.20 C518.07,625.37 516.15,623.28 515.15,621.00 C514.15,618.72 513.30,617.22 513.25,614.50 C513.20,611.78 514.33,607.78 514.85,604.70 C515.37,601.62 515.72,598.62 516.35,596.00 C516.98,593.38 517.68,591.33 518.65,589.00 C519.62,586.67 521.15,584.28 522.15,582.00 C523.15,579.72 524.14,578.97 524.65,575.30 C525.16,571.63 525.11,569.22 525.20,560.00 C525.29,550.78 525.20,532.87 525.20,520.00 C525.20,507.13 525.41,491.13 525.20,482.80 C524.99,474.47 524.34,473.78 523.95,470.00 C523.56,466.22 522.78,463.43 522.85,460.10 C522.92,456.77 523.91,453.73 524.35,450.00 C524.79,446.27 525.31,439.75 525.50,437.70 Z" fill="#9596d2" stroke="#18508e" stroke-width="1.45" stroke-linejoin="round"/>
<path d="M561.40,504.40 C561.69,506.17 562.59,511.08 563.15,515.00 C563.71,518.92 564.68,524.07 564.75,527.90 C564.82,531.73 564.00,534.57 563.55,538.00 C563.10,541.43 562.20,545.50 562.05,548.50 C561.90,551.50 562.38,553.58 562.65,556.00 C562.92,558.42 563.30,560.67 563.65,563.00 C564.00,565.33 564.50,567.93 564.75,570.00 C565.00,572.07 565.13,573.40 565.15,575.40 C565.17,577.40 565.00,579.73 564.85,582.00 C564.70,584.27 564.38,586.77 564.25,589.00 C564.12,591.23 563.80,593.07 564.05,595.40 C564.30,597.73 565.02,600.43 565.75,603.00 C566.48,605.57 567.48,608.63 568.45,610.80 C569.42,612.97 570.67,614.22 571.55,616.00 C572.43,617.78 573.45,619.67 573.75,621.50 C574.05,623.33 573.72,625.20 573.35,627.00 C572.98,628.80 572.32,630.47 571.55,632.30 C570.78,634.13 569.65,636.22 568.75,638.00 C567.85,639.78 566.88,641.33 566.15,643.00 C565.42,644.67 564.85,646.45 564.35,648.00 C563.85,649.55 563.53,650.80 563.15,652.30 C562.77,653.80 562.34,655.30 562.05,657.00 C561.76,658.70 561.51,661.58 561.40,662.50 L561.40,662.50 C561.29,661.58 561.04,658.70 560.75,657.00 C560.46,655.30 560.03,653.80 559.65,652.30 C559.27,650.80 558.95,649.55 558.45,648.00 C557.95,646.45 557.38,644.67 556.65,643.00 C555.92,641.33 554.95,639.78 554.05,638.00 C553.15,636.22 552.02,634.13 551.25,632.30 C550.48,630.47 549.82,628.80 549.45,627.00 C549.08,625.20 548.75,623.33 549.05,621.50 C549.35,619.67 550.37,617.78 551.25,616.00 C552.13,614.22 553.38,612.97 554.35,610.80 C555.32,608.63 556.32,605.57 557.05,603.00 C557.78,600.43 558.50,597.73 558.75,595.40 C559.00,593.07 558.68,591.23 558.55,589.00 C558.42,586.77 558.10,584.27 557.95,582.00 C557.80,579.73 557.63,577.40 557.65,575.40 C557.67,573.40 557.80,572.07 558.05,570.00 C558.30,567.93 558.80,565.33 559.15,563.00 C559.50,560.67 559.88,558.42 560.15,556.00 C560.42,553.58 560.90,551.50 560.75,548.50 C560.60,545.50 559.70,541.43 559.25,538.00 C558.80,534.57 557.98,531.73 558.05,527.90 C558.12,524.07 559.09,518.92 559.65,515.00 C560.21,511.08 561.11,506.17 561.40,504.40 Z" fill="#f0d5ea" stroke="#a64a98" stroke-width="1.45" stroke-linejoin="round"/>
<path d="M617.30,454.10 C617.44,454.75 617.77,456.52 618.15,458.00 C618.52,459.48 619.15,461.33 619.55,463.00 C619.95,464.67 620.28,466.33 620.55,468.00 C620.82,469.67 621.03,471.45 621.15,473.00 C621.27,474.55 621.30,475.80 621.25,477.30 C621.20,478.80 621.07,480.38 620.85,482.00 C620.63,483.62 620.30,485.50 619.95,487.00 C619.60,488.50 619.10,489.67 618.75,491.00 C618.40,492.33 618.04,493.50 617.85,495.00 C617.66,496.50 617.64,492.50 617.60,500.00 C617.56,507.50 617.59,529.17 617.60,540.00 C617.61,550.83 617.51,559.67 617.65,565.00 C617.79,570.33 618.08,569.83 618.45,572.00 C618.82,574.17 619.28,575.92 619.85,578.00 C620.42,580.08 621.08,582.33 621.85,584.50 C622.62,586.67 623.65,588.75 624.45,591.00 C625.25,593.25 625.98,595.67 626.65,598.00 C627.32,600.33 627.98,602.83 628.45,605.00 C628.92,607.17 629.28,608.50 629.45,611.00 C629.62,613.50 629.53,617.07 629.45,620.00 C629.37,622.93 629.18,625.93 628.95,628.60 C628.72,631.27 628.43,633.70 628.05,636.00 C627.67,638.30 627.38,640.07 626.65,642.40 C625.92,644.73 624.63,647.40 623.65,650.00 C622.67,652.60 621.58,655.67 620.75,658.00 C619.92,660.33 619.23,662.08 618.65,664.00 C618.07,665.92 617.52,668.58 617.30,669.50 L617.30,669.50 C617.07,668.58 616.52,665.92 615.95,664.00 C615.37,662.08 614.68,660.33 613.85,658.00 C613.02,655.67 611.93,652.60 610.95,650.00 C609.97,647.40 608.68,644.73 607.95,642.40 C607.22,640.07 606.93,638.30 606.55,636.00 C606.17,633.70 605.88,631.27 605.65,628.60 C605.42,625.93 605.23,622.93 605.15,620.00 C605.07,617.07 604.98,613.50 605.15,611.00 C605.32,608.50 605.68,607.17 606.15,605.00 C606.62,602.83 607.28,600.33 607.95,598.00 C608.62,595.67 609.35,593.25 610.15,591.00 C610.95,588.75 611.98,586.67 612.75,584.50 C613.52,582.33 614.18,580.08 614.75,578.00 C615.32,575.92 615.78,574.17 616.15,572.00 C616.52,569.83 616.81,570.33 616.95,565.00 C617.09,559.67 616.99,550.83 617.00,540.00 C617.01,529.17 617.04,507.50 617.00,500.00 C616.96,492.50 616.94,496.50 616.75,495.00 C616.56,493.50 616.20,492.33 615.85,491.00 C615.50,489.67 615.00,488.50 614.65,487.00 C614.30,485.50 613.97,483.62 613.75,482.00 C613.53,480.38 613.40,478.80 613.35,477.30 C613.30,475.80 613.33,474.55 613.45,473.00 C613.57,471.45 613.78,469.67 614.05,468.00 C614.32,466.33 614.65,464.67 615.05,463.00 C615.45,461.33 616.07,459.48 616.45,458.00 C616.82,456.52 617.16,454.75 617.30,454.10 Z" fill="#9596d2" stroke="#18508e" stroke-width="1.45" stroke-linejoin="round"/>
<path d="M653.10,497.80 C653.26,499.00 653.68,502.63 654.05,505.00 C654.43,507.37 654.97,509.50 655.35,512.00 C655.73,514.50 656.13,517.67 656.35,520.00 C656.57,522.33 656.68,523.83 656.65,526.00 C656.62,528.17 656.45,530.67 656.15,533.00 C655.85,535.33 655.27,537.50 654.85,540.00 C654.43,542.50 653.88,544.67 653.65,548.00 C653.42,551.33 653.48,554.67 653.45,560.00 C653.42,565.33 653.38,575.00 653.45,580.00 C653.52,585.00 653.55,587.33 653.85,590.00 C654.15,592.67 654.72,594.33 655.25,596.00 C655.78,597.67 656.32,598.67 657.05,600.00 C657.78,601.33 658.72,602.67 659.65,604.00 C660.58,605.33 661.75,606.67 662.65,608.00 C663.55,609.33 664.55,610.83 665.05,612.00 C665.55,613.17 665.62,613.83 665.65,615.00 C665.68,616.17 665.58,617.67 665.25,619.00 C664.92,620.33 664.25,621.67 663.65,623.00 C663.05,624.33 662.42,625.50 661.65,627.00 C660.88,628.50 659.88,630.33 659.05,632.00 C658.22,633.67 657.38,635.33 656.65,637.00 C655.92,638.67 655.24,640.28 654.65,642.00 C654.06,643.72 653.36,646.42 653.10,647.30 L653.10,647.30 C652.84,646.42 652.14,643.72 651.55,642.00 C650.96,640.28 650.28,638.67 649.55,637.00 C648.82,635.33 647.98,633.67 647.15,632.00 C646.32,630.33 645.32,628.50 644.55,627.00 C643.78,625.50 643.15,624.33 642.55,623.00 C641.95,621.67 641.28,620.33 640.95,619.00 C640.62,617.67 640.52,616.17 640.55,615.00 C640.58,613.83 640.65,613.17 641.15,612.00 C641.65,610.83 642.65,609.33 643.55,608.00 C644.45,606.67 645.62,605.33 646.55,604.00 C647.48,602.67 648.42,601.33 649.15,600.00 C649.88,598.67 650.42,597.67 650.95,596.00 C651.48,594.33 652.05,592.67 652.35,590.00 C652.65,587.33 652.68,585.00 652.75,580.00 C652.82,575.00 652.78,565.33 652.75,560.00 C652.72,554.67 652.78,551.33 652.55,548.00 C652.32,544.67 651.77,542.50 651.35,540.00 C650.93,537.50 650.35,535.33 650.05,533.00 C649.75,530.67 649.58,528.17 649.55,526.00 C649.52,523.83 649.63,522.33 649.85,520.00 C650.07,517.67 650.47,514.50 650.85,512.00 C651.23,509.50 651.77,507.37 652.15,505.00 C652.52,502.63 652.94,499.00 653.10,497.80 Z" fill="#f0d5ea" stroke="#a64a98" stroke-width="1.45" stroke-linejoin="round"/>
<rect x="517.2" y="582.7" width="17.09999999999991" height="32.299999999999955" fill="none" stroke="#333" stroke-width="0.9"/>
<rect x="552.5" y="591.4" width="17.299999999999955" height="23.700000000000045" fill="none" stroke="#333" stroke-width="0.9"/>
<rect x="608.6" y="593.3" width="17.100000000000023" height="31.0" fill="none" stroke="#333" stroke-width="0.9"/>
<rect x="644.5" y="582.0" width="17.100000000000023" height="26.0" fill="none" stroke="#333" stroke-width="0.9"/>
<line x1="511.2" y1="598.8" x2="540.2" y2="598.8" stroke="#111" stroke-width="2.6"/>
<line x1="551.4" y1="603.1" x2="571.6" y2="603.1" stroke="#111" stroke-width="2.6"/>
<line x1="601.2" y1="608.6" x2="633.1" y2="608.6" stroke="#111" stroke-width="2.6"/>
<line x1="642.5" y1="594.9" x2="663.5" y2="594.9" stroke="#111" stroke-width="2.6"/>
<ellipse cx="525.5" cy="460.4" rx="2.3" ry="2.0" fill="none" stroke="#2b2a8c" stroke-width="1.3"/>
<ellipse cx="525.5" cy="590.7" rx="2.3" ry="2.0" fill="none" stroke="#2b2a8c" stroke-width="1.3"/>
<ellipse cx="525.5" cy="601.1" rx="2.3" ry="2.0" fill="none" stroke="#2b2a8c" stroke-width="1.3"/>
<ellipse cx="525.5" cy="609.3" rx="2.3" ry="2.0" fill="none" stroke="#2b2a8c" stroke-width="1.3"/>
<ellipse cx="525.5" cy="611.0" rx="2.3" ry="2.0" fill="none" stroke="#2b2a8c" stroke-width="1.3"/>
<ellipse cx="525.5" cy="618.4" rx="2.3" ry="2.0" fill="none" stroke="#2b2a8c" stroke-width="1.3"/>
<ellipse cx="525.5" cy="620.3" rx="2.3" ry="2.0" fill="none" stroke="#2b2a8c" stroke-width="1.3"/>
<ellipse cx="525.5" cy="622.3" rx="2.3" ry="2.0" fill="none" stroke="#2b2a8c" stroke-width="1.3"/>
<ellipse cx="525.5" cy="624.2" rx="2.3" ry="2.0" fill="none" stroke="#2b2a8c" stroke-width="1.3"/>
<ellipse cx="525.5" cy="644.0" rx="2.3" ry="2.0" fill="none" stroke="#2b2a8c" stroke-width="1.3"/>
<ellipse cx="561.4" cy="527.9" rx="2.3" ry="2.0" fill="none" stroke="#9e3f8e" stroke-width="1.3"/>
<ellipse cx="561.4" cy="571.0" rx="2.3" ry="2.0" fill="none" stroke="#9e3f8e" stroke-width="1.3"/>
<ellipse cx="561.4" cy="585.5" rx="2.3" ry="2.0" fill="none" stroke="#9e3f8e" stroke-width="1.3"/>
<ellipse cx="561.4" cy="609.6" rx="2.3" ry="2.0" fill="none" stroke="#9e3f8e" stroke-width="1.3"/>
<ellipse cx="561.4" cy="617.1" rx="2.3" ry="2.0" fill="none" stroke="#9e3f8e" stroke-width="1.3"/>
<ellipse cx="561.4" cy="624.0" rx="2.3" ry="2.0" fill="none" stroke="#9e3f8e" stroke-width="1.3"/>
<ellipse cx="561.4" cy="627.2" rx="2.3" ry="2.0" fill="none" stroke="#9e3f8e" stroke-width="1.3"/>
<ellipse cx="561.4" cy="639.6" rx="2.3" ry="2.0" fill="none" stroke="#9e3f8e" stroke-width="1.3"/>
<ellipse cx="617.3" cy="477.8" rx="2.3" ry="2.0" fill="none" stroke="#2b2a8c" stroke-width="1.3"/>
<ellipse cx="617.3" cy="594.3" rx="2.3" ry="2.0" fill="none" stroke="#2b2a8c" stroke-width="1.3"/>
<ellipse cx="617.3" cy="608.6" rx="2.3" ry="2.0" fill="none" stroke="#2b2a8c" stroke-width="1.3"/>
<ellipse cx="617.3" cy="616.9" rx="2.3" ry="2.0" fill="none" stroke="#2b2a8c" stroke-width="1.3"/>
<ellipse cx="617.3" cy="623.1" rx="2.3" ry="2.0" fill="none" stroke="#2b2a8c" stroke-width="1.3"/>
<ellipse cx="617.3" cy="630.0" rx="2.3" ry="2.0" fill="none" stroke="#2b2a8c" stroke-width="1.3"/>
<ellipse cx="617.3" cy="637.0" rx="2.3" ry="2.0" fill="none" stroke="#2b2a8c" stroke-width="1.3"/>
<ellipse cx="617.3" cy="640.4" rx="2.3" ry="2.0" fill="none" stroke="#2b2a8c" stroke-width="1.3"/>
<ellipse cx="617.3" cy="646.9" rx="2.3" ry="2.0" fill="none" stroke="#2b2a8c" stroke-width="1.3"/>
<ellipse cx="653.1" cy="521.4" rx="2.3" ry="2.0" fill="none" stroke="#9e3f8e" stroke-width="1.3"/>
<ellipse cx="653.1" cy="533.1" rx="2.3" ry="2.0" fill="none" stroke="#9e3f8e" stroke-width="1.3"/>
<ellipse cx="653.1" cy="602.2" rx="2.3" ry="2.0" fill="none" stroke="#9e3f8e" stroke-width="1.3"/>
<ellipse cx="653.1" cy="607.2" rx="2.3" ry="2.0" fill="none" stroke="#9e3f8e" stroke-width="1.3"/>
<ellipse cx="653.1" cy="611.5" rx="2.3" ry="2.0" fill="none" stroke="#9e3f8e" stroke-width="1.3"/>
<ellipse cx="653.1" cy="615.5" rx="2.3" ry="2.0" fill="none" stroke="#9e3f8e" stroke-width="1.3"/>
<ellipse cx="653.1" cy="619.7" rx="2.3" ry="2.0" fill="none" stroke="#9e3f8e" stroke-width="1.3"/>
<ellipse cx="653.1" cy="624.5" rx="2.3" ry="2.0" fill="none" stroke="#9e3f8e" stroke-width="1.3"/>
</svg>
</body></html>
